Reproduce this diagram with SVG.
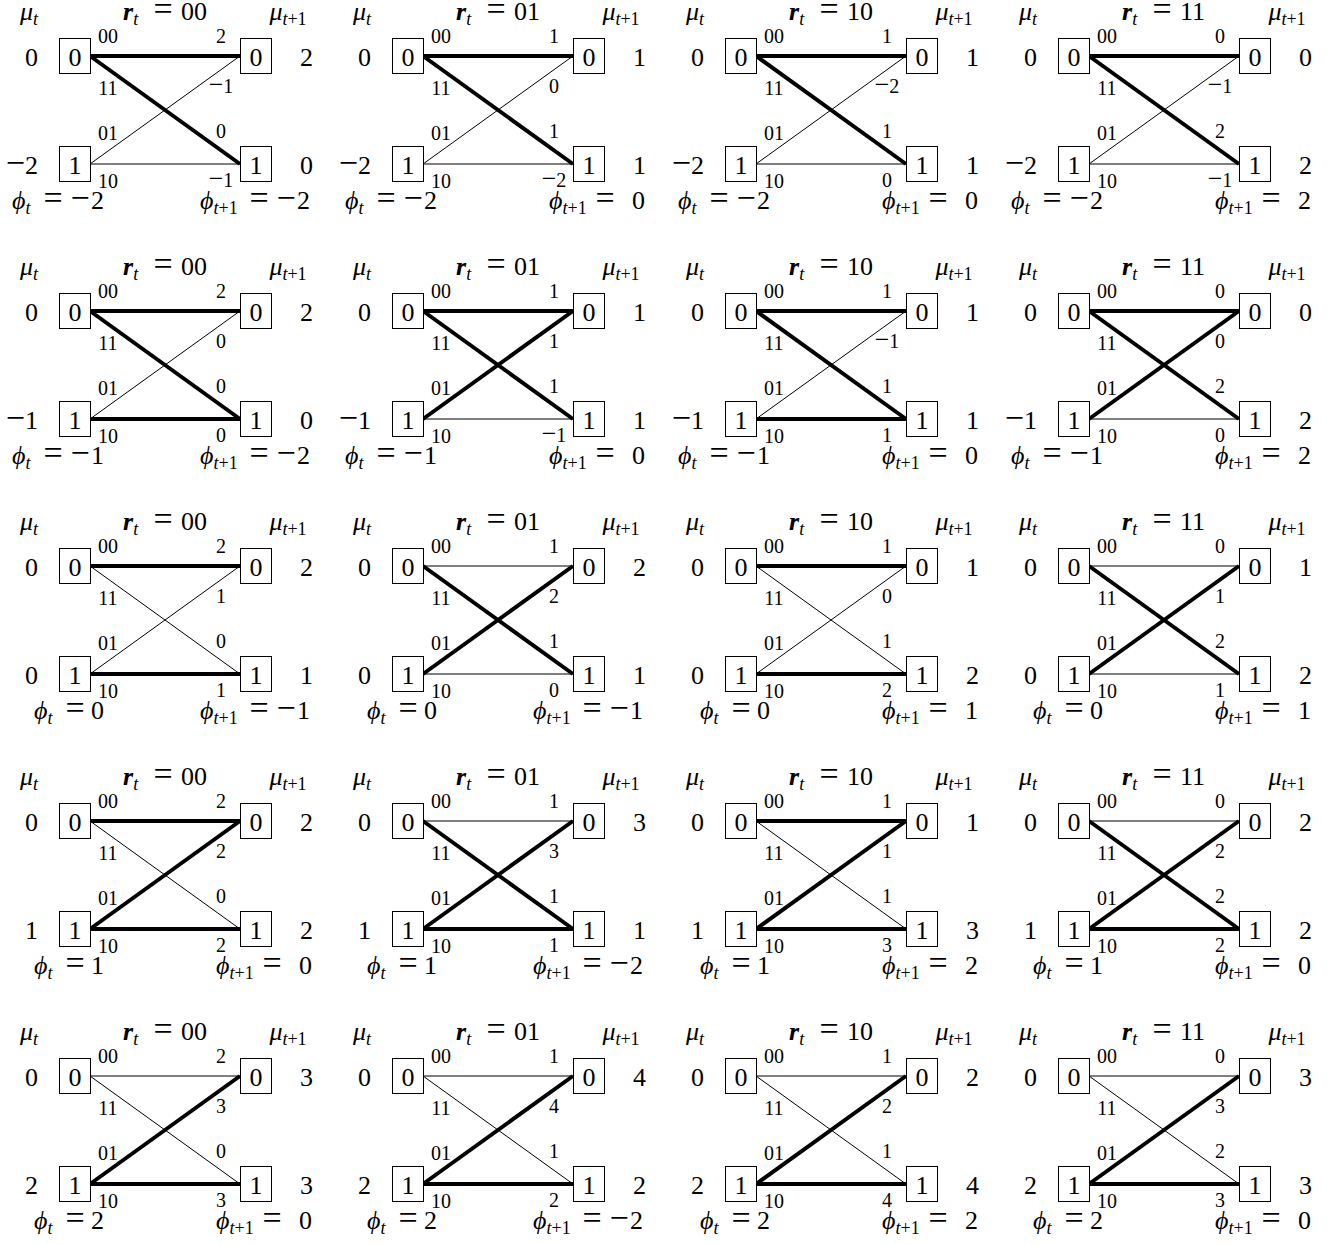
<svg xmlns="http://www.w3.org/2000/svg" width="1332" height="1245" viewBox="0 0 1332 1245">
<style>
text { font-family: "Liberation Serif", "DejaVu Serif", serif; fill: #000; }
.L { font-size: 26px; }
.S { font-size: 20px; }
.sub { font-size: 18px; }
.op { font-size: 34px; }
.ops { font-size: 26px; }
.i { font-style: italic; }
.bi { font-style: italic; font-weight: bold; }
.mid { text-anchor: middle; }
.end { text-anchor: end; }
.box { fill: #fff; stroke: #000; stroke-width: 1; }
.thin { stroke: #000; stroke-width: 1; fill: none; }
.thick { stroke: #000; stroke-width: 4; fill: none; }
</style>
<rect x="0" y="0" width="1332" height="1245" fill="#fff"/>

<!-- ROW 0 -->
<g id="panel-r0c0" transform="translate(0,0)">
<text class="L end" x="38" y="20"><tspan class="i">μ</tspan><tspan class="sub i" dy="5">t</tspan></text>
<text class="L" y="20"><tspan x="123" class="bi">r</tspan><tspan class="sub i" dy="5">t</tspan><tspan x="153.4" dy="-5" class="op">=</tspan><tspan x="181">00</tspan></text>
<text class="L mid" x="288" y="20"><tspan class="i">μ</tspan><tspan class="sub" dy="5"><tspan class="i">t</tspan>+1</tspan></text>
<g id="r0c0-connectors">
<line class="thin" x1="90" y1="164" x2="240" y2="56"/>
<line class="thin" x1="90" y1="164" x2="240" y2="164"/>
<line class="thick" x1="90" y1="56" x2="240" y2="56"/>
<line class="thick" x1="90" y1="56" x2="240" y2="164"/>
</g>
<g id="r0c0-s0"><rect class="box" x="59.5" y="38.5" width="31" height="35"/><text class="L mid" x="75" y="66">0</text></g>
<g id="r0c0-s1"><rect class="box" x="59.5" y="146.5" width="31" height="35"/><text class="L mid" x="75" y="174">1</text></g>
<g id="r0c0-n0"><rect class="box" x="240.5" y="38.5" width="31" height="35"/><text class="L mid" x="256" y="66">0</text></g>
<g id="r0c0-n1"><rect class="box" x="240.5" y="146.5" width="31" height="35"/><text class="L mid" x="256" y="174">1</text></g>
<text class="S mid" x="108" y="43">00</text><text class="S mid" x="108" y="95">11</text><text class="S mid" x="108" y="140">01</text><text class="S mid" x="108" y="188">10</text>
<text class="S mid" x="221" y="43">2</text><text class="S mid" x="221" y="93"><tspan class="ops">−</tspan>1</text><text class="S mid" x="221" y="138">0</text><text class="S mid" x="221" y="187"><tspan class="ops">−</tspan>1</text>
<text class="L end" x="38" y="66">0</text><text class="L end" x="38" y="174"><tspan class="op">−</tspan>2</text>
<text class="L mid" x="306.5" y="66">2</text><text class="L mid" x="306.5" y="174">0</text>
<text class="L" y="209"><tspan x="12" class="i">ϕ</tspan><tspan class="sub i" dy="5">t</tspan><tspan x="43.4" dy="-5" class="op">=</tspan><tspan x="70.4" class="op">−</tspan><tspan x="91">2</tspan></text>
<text class="L" y="209"><tspan x="200" class="i">ϕ</tspan><tspan class="sub" dy="5"><tspan class="i">t</tspan>+1</tspan><tspan x="249.4" dy="-5" class="op">=</tspan><tspan x="276.4" class="op">−</tspan><tspan x="297">2</tspan></text>
</g>

<g id="panel-r0c1" transform="translate(333,0)">
<text class="L end" x="38" y="20"><tspan class="i">μ</tspan><tspan class="sub i" dy="5">t</tspan></text>
<text class="L" y="20"><tspan x="123" class="bi">r</tspan><tspan class="sub i" dy="5">t</tspan><tspan x="153.4" dy="-5" class="op">=</tspan><tspan x="181">01</tspan></text>
<text class="L mid" x="288" y="20"><tspan class="i">μ</tspan><tspan class="sub" dy="5"><tspan class="i">t</tspan>+1</tspan></text>
<g id="r0c1-connectors">
<line class="thin" x1="90" y1="164" x2="240" y2="56"/>
<line class="thin" x1="90" y1="164" x2="240" y2="164"/>
<line class="thick" x1="90" y1="56" x2="240" y2="56"/>
<line class="thick" x1="90" y1="56" x2="240" y2="164"/>
</g>
<g id="r0c1-s0"><rect class="box" x="59.5" y="38.5" width="31" height="35"/><text class="L mid" x="75" y="66">0</text></g>
<g id="r0c1-s1"><rect class="box" x="59.5" y="146.5" width="31" height="35"/><text class="L mid" x="75" y="174">1</text></g>
<g id="r0c1-n0"><rect class="box" x="240.5" y="38.5" width="31" height="35"/><text class="L mid" x="256" y="66">0</text></g>
<g id="r0c1-n1"><rect class="box" x="240.5" y="146.5" width="31" height="35"/><text class="L mid" x="256" y="174">1</text></g>
<text class="S mid" x="108" y="43">00</text><text class="S mid" x="108" y="95">11</text><text class="S mid" x="108" y="140">01</text><text class="S mid" x="108" y="188">10</text>
<text class="S mid" x="221" y="43">1</text><text class="S mid" x="221" y="93">0</text><text class="S mid" x="221" y="138">1</text><text class="S mid" x="221" y="187"><tspan class="ops">−</tspan>2</text>
<text class="L end" x="38" y="66">0</text><text class="L end" x="38" y="174"><tspan class="op">−</tspan>2</text>
<text class="L mid" x="306.5" y="66">1</text><text class="L mid" x="306.5" y="174">1</text>
<text class="L" y="209"><tspan x="12" class="i">ϕ</tspan><tspan class="sub i" dy="5">t</tspan><tspan x="43.4" dy="-5" class="op">=</tspan><tspan x="70.4" class="op">−</tspan><tspan x="91">2</tspan></text>
<text class="L" y="209"><tspan x="216" class="i">ϕ</tspan><tspan class="sub" dy="5"><tspan class="i">t</tspan>+1</tspan><tspan x="262.4" dy="-5" class="op">=</tspan><tspan x="299">0</tspan></text>
</g>

<g id="panel-r0c2" transform="translate(666,0)">
<text class="L end" x="38" y="20"><tspan class="i">μ</tspan><tspan class="sub i" dy="5">t</tspan></text>
<text class="L" y="20"><tspan x="123" class="bi">r</tspan><tspan class="sub i" dy="5">t</tspan><tspan x="153.4" dy="-5" class="op">=</tspan><tspan x="181">10</tspan></text>
<text class="L mid" x="288" y="20"><tspan class="i">μ</tspan><tspan class="sub" dy="5"><tspan class="i">t</tspan>+1</tspan></text>
<g id="r0c2-connectors">
<line class="thin" x1="90" y1="164" x2="240" y2="56"/>
<line class="thin" x1="90" y1="164" x2="240" y2="164"/>
<line class="thick" x1="90" y1="56" x2="240" y2="56"/>
<line class="thick" x1="90" y1="56" x2="240" y2="164"/>
</g>
<g id="r0c2-s0"><rect class="box" x="59.5" y="38.5" width="31" height="35"/><text class="L mid" x="75" y="66">0</text></g>
<g id="r0c2-s1"><rect class="box" x="59.5" y="146.5" width="31" height="35"/><text class="L mid" x="75" y="174">1</text></g>
<g id="r0c2-n0"><rect class="box" x="240.5" y="38.5" width="31" height="35"/><text class="L mid" x="256" y="66">0</text></g>
<g id="r0c2-n1"><rect class="box" x="240.5" y="146.5" width="31" height="35"/><text class="L mid" x="256" y="174">1</text></g>
<text class="S mid" x="108" y="43">00</text><text class="S mid" x="108" y="95">11</text><text class="S mid" x="108" y="140">01</text><text class="S mid" x="108" y="188">10</text>
<text class="S mid" x="221" y="43">1</text><text class="S mid" x="221" y="93"><tspan class="ops">−</tspan>2</text><text class="S mid" x="221" y="138">1</text><text class="S mid" x="221" y="187">0</text>
<text class="L end" x="38" y="66">0</text><text class="L end" x="38" y="174"><tspan class="op">−</tspan>2</text>
<text class="L mid" x="306.5" y="66">1</text><text class="L mid" x="306.5" y="174">1</text>
<text class="L" y="209"><tspan x="12" class="i">ϕ</tspan><tspan class="sub i" dy="5">t</tspan><tspan x="43.4" dy="-5" class="op">=</tspan><tspan x="70.4" class="op">−</tspan><tspan x="91">2</tspan></text>
<text class="L" y="209"><tspan x="216" class="i">ϕ</tspan><tspan class="sub" dy="5"><tspan class="i">t</tspan>+1</tspan><tspan x="262.4" dy="-5" class="op">=</tspan><tspan x="299">0</tspan></text>
</g>

<g id="panel-r0c3" transform="translate(999,0)">
<text class="L end" x="38" y="20"><tspan class="i">μ</tspan><tspan class="sub i" dy="5">t</tspan></text>
<text class="L" y="20"><tspan x="123" class="bi">r</tspan><tspan class="sub i" dy="5">t</tspan><tspan x="153.4" dy="-5" class="op">=</tspan><tspan x="181">11</tspan></text>
<text class="L mid" x="288" y="20"><tspan class="i">μ</tspan><tspan class="sub" dy="5"><tspan class="i">t</tspan>+1</tspan></text>
<g id="r0c3-connectors">
<line class="thin" x1="90" y1="164" x2="240" y2="56"/>
<line class="thin" x1="90" y1="164" x2="240" y2="164"/>
<line class="thick" x1="90" y1="56" x2="240" y2="56"/>
<line class="thick" x1="90" y1="56" x2="240" y2="164"/>
</g>
<g id="r0c3-s0"><rect class="box" x="59.5" y="38.5" width="31" height="35"/><text class="L mid" x="75" y="66">0</text></g>
<g id="r0c3-s1"><rect class="box" x="59.5" y="146.5" width="31" height="35"/><text class="L mid" x="75" y="174">1</text></g>
<g id="r0c3-n0"><rect class="box" x="240.5" y="38.5" width="31" height="35"/><text class="L mid" x="256" y="66">0</text></g>
<g id="r0c3-n1"><rect class="box" x="240.5" y="146.5" width="31" height="35"/><text class="L mid" x="256" y="174">1</text></g>
<text class="S mid" x="108" y="43">00</text><text class="S mid" x="108" y="95">11</text><text class="S mid" x="108" y="140">01</text><text class="S mid" x="108" y="188">10</text>
<text class="S mid" x="221" y="43">0</text><text class="S mid" x="221" y="93"><tspan class="ops">−</tspan>1</text><text class="S mid" x="221" y="138">2</text><text class="S mid" x="221" y="187"><tspan class="ops">−</tspan>1</text>
<text class="L end" x="38" y="66">0</text><text class="L end" x="38" y="174"><tspan class="op">−</tspan>2</text>
<text class="L mid" x="306.5" y="66">0</text><text class="L mid" x="306.5" y="174">2</text>
<text class="L" y="209"><tspan x="12" class="i">ϕ</tspan><tspan class="sub i" dy="5">t</tspan><tspan x="43.4" dy="-5" class="op">=</tspan><tspan x="70.4" class="op">−</tspan><tspan x="91">2</tspan></text>
<text class="L" y="209"><tspan x="216" class="i">ϕ</tspan><tspan class="sub" dy="5"><tspan class="i">t</tspan>+1</tspan><tspan x="262.4" dy="-5" class="op">=</tspan><tspan x="299">2</tspan></text>
</g>

<!-- ROW 1 -->
<g id="panel-r1c0" transform="translate(0,255)">
<text class="L end" x="38" y="20"><tspan class="i">μ</tspan><tspan class="sub i" dy="5">t</tspan></text>
<text class="L" y="20"><tspan x="123" class="bi">r</tspan><tspan class="sub i" dy="5">t</tspan><tspan x="153.4" dy="-5" class="op">=</tspan><tspan x="181">00</tspan></text>
<text class="L mid" x="288" y="20"><tspan class="i">μ</tspan><tspan class="sub" dy="5"><tspan class="i">t</tspan>+1</tspan></text>
<g id="r1c0-connectors">
<line class="thin" x1="90" y1="164" x2="240" y2="56"/>
<line class="thick" x1="90" y1="56" x2="240" y2="56"/>
<line class="thick" x1="90" y1="56" x2="240" y2="164"/>
<line class="thick" x1="90" y1="164" x2="240" y2="164"/>
</g>
<g id="r1c0-s0"><rect class="box" x="59.5" y="38.5" width="31" height="35"/><text class="L mid" x="75" y="66">0</text></g>
<g id="r1c0-s1"><rect class="box" x="59.5" y="146.5" width="31" height="35"/><text class="L mid" x="75" y="174">1</text></g>
<g id="r1c0-n0"><rect class="box" x="240.5" y="38.5" width="31" height="35"/><text class="L mid" x="256" y="66">0</text></g>
<g id="r1c0-n1"><rect class="box" x="240.5" y="146.5" width="31" height="35"/><text class="L mid" x="256" y="174">1</text></g>
<text class="S mid" x="108" y="43">00</text><text class="S mid" x="108" y="95">11</text><text class="S mid" x="108" y="140">01</text><text class="S mid" x="108" y="188">10</text>
<text class="S mid" x="221" y="43">2</text><text class="S mid" x="221" y="93">0</text><text class="S mid" x="221" y="138">0</text><text class="S mid" x="221" y="187">0</text>
<text class="L end" x="38" y="66">0</text><text class="L end" x="38" y="174"><tspan class="op">−</tspan>1</text>
<text class="L mid" x="306.5" y="66">2</text><text class="L mid" x="306.5" y="174">0</text>
<text class="L" y="209"><tspan x="12" class="i">ϕ</tspan><tspan class="sub i" dy="5">t</tspan><tspan x="43.4" dy="-5" class="op">=</tspan><tspan x="70.4" class="op">−</tspan><tspan x="91">1</tspan></text>
<text class="L" y="209"><tspan x="200" class="i">ϕ</tspan><tspan class="sub" dy="5"><tspan class="i">t</tspan>+1</tspan><tspan x="249.4" dy="-5" class="op">=</tspan><tspan x="276.4" class="op">−</tspan><tspan x="297">2</tspan></text>
</g>

<g id="panel-r1c1" transform="translate(333,255)">
<text class="L end" x="38" y="20"><tspan class="i">μ</tspan><tspan class="sub i" dy="5">t</tspan></text>
<text class="L" y="20"><tspan x="123" class="bi">r</tspan><tspan class="sub i" dy="5">t</tspan><tspan x="153.4" dy="-5" class="op">=</tspan><tspan x="181">01</tspan></text>
<text class="L mid" x="288" y="20"><tspan class="i">μ</tspan><tspan class="sub" dy="5"><tspan class="i">t</tspan>+1</tspan></text>
<g id="r1c1-connectors">
<line class="thin" x1="90" y1="164" x2="240" y2="164"/>
<line class="thick" x1="90" y1="56" x2="240" y2="56"/>
<line class="thick" x1="90" y1="56" x2="240" y2="164"/>
<line class="thick" x1="90" y1="164" x2="240" y2="56"/>
</g>
<g id="r1c1-s0"><rect class="box" x="59.5" y="38.5" width="31" height="35"/><text class="L mid" x="75" y="66">0</text></g>
<g id="r1c1-s1"><rect class="box" x="59.5" y="146.5" width="31" height="35"/><text class="L mid" x="75" y="174">1</text></g>
<g id="r1c1-n0"><rect class="box" x="240.5" y="38.5" width="31" height="35"/><text class="L mid" x="256" y="66">0</text></g>
<g id="r1c1-n1"><rect class="box" x="240.5" y="146.5" width="31" height="35"/><text class="L mid" x="256" y="174">1</text></g>
<text class="S mid" x="108" y="43">00</text><text class="S mid" x="108" y="95">11</text><text class="S mid" x="108" y="140">01</text><text class="S mid" x="108" y="188">10</text>
<text class="S mid" x="221" y="43">1</text><text class="S mid" x="221" y="93">1</text><text class="S mid" x="221" y="138">1</text><text class="S mid" x="221" y="187"><tspan class="ops">−</tspan>1</text>
<text class="L end" x="38" y="66">0</text><text class="L end" x="38" y="174"><tspan class="op">−</tspan>1</text>
<text class="L mid" x="306.5" y="66">1</text><text class="L mid" x="306.5" y="174">1</text>
<text class="L" y="209"><tspan x="12" class="i">ϕ</tspan><tspan class="sub i" dy="5">t</tspan><tspan x="43.4" dy="-5" class="op">=</tspan><tspan x="70.4" class="op">−</tspan><tspan x="91">1</tspan></text>
<text class="L" y="209"><tspan x="216" class="i">ϕ</tspan><tspan class="sub" dy="5"><tspan class="i">t</tspan>+1</tspan><tspan x="262.4" dy="-5" class="op">=</tspan><tspan x="299">0</tspan></text>
</g>

<g id="panel-r1c2" transform="translate(666,255)">
<text class="L end" x="38" y="20"><tspan class="i">μ</tspan><tspan class="sub i" dy="5">t</tspan></text>
<text class="L" y="20"><tspan x="123" class="bi">r</tspan><tspan class="sub i" dy="5">t</tspan><tspan x="153.4" dy="-5" class="op">=</tspan><tspan x="181">10</tspan></text>
<text class="L mid" x="288" y="20"><tspan class="i">μ</tspan><tspan class="sub" dy="5"><tspan class="i">t</tspan>+1</tspan></text>
<g id="r1c2-connectors">
<line class="thin" x1="90" y1="164" x2="240" y2="56"/>
<line class="thick" x1="90" y1="56" x2="240" y2="56"/>
<line class="thick" x1="90" y1="56" x2="240" y2="164"/>
<line class="thick" x1="90" y1="164" x2="240" y2="164"/>
</g>
<g id="r1c2-s0"><rect class="box" x="59.5" y="38.5" width="31" height="35"/><text class="L mid" x="75" y="66">0</text></g>
<g id="r1c2-s1"><rect class="box" x="59.5" y="146.5" width="31" height="35"/><text class="L mid" x="75" y="174">1</text></g>
<g id="r1c2-n0"><rect class="box" x="240.5" y="38.5" width="31" height="35"/><text class="L mid" x="256" y="66">0</text></g>
<g id="r1c2-n1"><rect class="box" x="240.5" y="146.5" width="31" height="35"/><text class="L mid" x="256" y="174">1</text></g>
<text class="S mid" x="108" y="43">00</text><text class="S mid" x="108" y="95">11</text><text class="S mid" x="108" y="140">01</text><text class="S mid" x="108" y="188">10</text>
<text class="S mid" x="221" y="43">1</text><text class="S mid" x="221" y="93"><tspan class="ops">−</tspan>1</text><text class="S mid" x="221" y="138">1</text><text class="S mid" x="221" y="187">1</text>
<text class="L end" x="38" y="66">0</text><text class="L end" x="38" y="174"><tspan class="op">−</tspan>1</text>
<text class="L mid" x="306.5" y="66">1</text><text class="L mid" x="306.5" y="174">1</text>
<text class="L" y="209"><tspan x="12" class="i">ϕ</tspan><tspan class="sub i" dy="5">t</tspan><tspan x="43.4" dy="-5" class="op">=</tspan><tspan x="70.4" class="op">−</tspan><tspan x="91">1</tspan></text>
<text class="L" y="209"><tspan x="216" class="i">ϕ</tspan><tspan class="sub" dy="5"><tspan class="i">t</tspan>+1</tspan><tspan x="262.4" dy="-5" class="op">=</tspan><tspan x="299">0</tspan></text>
</g>

<g id="panel-r1c3" transform="translate(999,255)">
<text class="L end" x="38" y="20"><tspan class="i">μ</tspan><tspan class="sub i" dy="5">t</tspan></text>
<text class="L" y="20"><tspan x="123" class="bi">r</tspan><tspan class="sub i" dy="5">t</tspan><tspan x="153.4" dy="-5" class="op">=</tspan><tspan x="181">11</tspan></text>
<text class="L mid" x="288" y="20"><tspan class="i">μ</tspan><tspan class="sub" dy="5"><tspan class="i">t</tspan>+1</tspan></text>
<g id="r1c3-connectors">
<line class="thin" x1="90" y1="164" x2="240" y2="164"/>
<line class="thick" x1="90" y1="56" x2="240" y2="56"/>
<line class="thick" x1="90" y1="56" x2="240" y2="164"/>
<line class="thick" x1="90" y1="164" x2="240" y2="56"/>
</g>
<g id="r1c3-s0"><rect class="box" x="59.5" y="38.5" width="31" height="35"/><text class="L mid" x="75" y="66">0</text></g>
<g id="r1c3-s1"><rect class="box" x="59.5" y="146.5" width="31" height="35"/><text class="L mid" x="75" y="174">1</text></g>
<g id="r1c3-n0"><rect class="box" x="240.5" y="38.5" width="31" height="35"/><text class="L mid" x="256" y="66">0</text></g>
<g id="r1c3-n1"><rect class="box" x="240.5" y="146.5" width="31" height="35"/><text class="L mid" x="256" y="174">1</text></g>
<text class="S mid" x="108" y="43">00</text><text class="S mid" x="108" y="95">11</text><text class="S mid" x="108" y="140">01</text><text class="S mid" x="108" y="188">10</text>
<text class="S mid" x="221" y="43">0</text><text class="S mid" x="221" y="93">0</text><text class="S mid" x="221" y="138">2</text><text class="S mid" x="221" y="187">0</text>
<text class="L end" x="38" y="66">0</text><text class="L end" x="38" y="174"><tspan class="op">−</tspan>1</text>
<text class="L mid" x="306.5" y="66">0</text><text class="L mid" x="306.5" y="174">2</text>
<text class="L" y="209"><tspan x="12" class="i">ϕ</tspan><tspan class="sub i" dy="5">t</tspan><tspan x="43.4" dy="-5" class="op">=</tspan><tspan x="70.4" class="op">−</tspan><tspan x="91">1</tspan></text>
<text class="L" y="209"><tspan x="216" class="i">ϕ</tspan><tspan class="sub" dy="5"><tspan class="i">t</tspan>+1</tspan><tspan x="262.4" dy="-5" class="op">=</tspan><tspan x="299">2</tspan></text>
</g>

<!-- ROW 2 -->
<g id="panel-r2c0" transform="translate(0,510)">
<text class="L end" x="38" y="20"><tspan class="i">μ</tspan><tspan class="sub i" dy="5">t</tspan></text>
<text class="L" y="20"><tspan x="123" class="bi">r</tspan><tspan class="sub i" dy="5">t</tspan><tspan x="153.4" dy="-5" class="op">=</tspan><tspan x="181">00</tspan></text>
<text class="L mid" x="288" y="20"><tspan class="i">μ</tspan><tspan class="sub" dy="5"><tspan class="i">t</tspan>+1</tspan></text>
<g id="r2c0-connectors">
<line class="thin" x1="90" y1="56" x2="240" y2="164"/>
<line class="thin" x1="90" y1="164" x2="240" y2="56"/>
<line class="thick" x1="90" y1="56" x2="240" y2="56"/>
<line class="thick" x1="90" y1="164" x2="240" y2="164"/>
</g>
<g id="r2c0-s0"><rect class="box" x="59.5" y="38.5" width="31" height="35"/><text class="L mid" x="75" y="66">0</text></g>
<g id="r2c0-s1"><rect class="box" x="59.5" y="146.5" width="31" height="35"/><text class="L mid" x="75" y="174">1</text></g>
<g id="r2c0-n0"><rect class="box" x="240.5" y="38.5" width="31" height="35"/><text class="L mid" x="256" y="66">0</text></g>
<g id="r2c0-n1"><rect class="box" x="240.5" y="146.5" width="31" height="35"/><text class="L mid" x="256" y="174">1</text></g>
<text class="S mid" x="108" y="43">00</text><text class="S mid" x="108" y="95">11</text><text class="S mid" x="108" y="140">01</text><text class="S mid" x="108" y="188">10</text>
<text class="S mid" x="221" y="43">2</text><text class="S mid" x="221" y="93">1</text><text class="S mid" x="221" y="138">0</text><text class="S mid" x="221" y="187">1</text>
<text class="L end" x="38" y="66">0</text><text class="L end" x="38" y="174">0</text>
<text class="L mid" x="306.5" y="66">2</text><text class="L mid" x="306.5" y="174">1</text>
<text class="L" y="209"><tspan x="34" class="i">ϕ</tspan><tspan class="sub i" dy="5">t</tspan><tspan x="65.4" dy="-5" class="op">=</tspan><tspan x="91">0</tspan></text>
<text class="L" y="209"><tspan x="200" class="i">ϕ</tspan><tspan class="sub" dy="5"><tspan class="i">t</tspan>+1</tspan><tspan x="249.4" dy="-5" class="op">=</tspan><tspan x="276.4" class="op">−</tspan><tspan x="297">1</tspan></text>
</g>

<g id="panel-r2c1" transform="translate(333,510)">
<text class="L end" x="38" y="20"><tspan class="i">μ</tspan><tspan class="sub i" dy="5">t</tspan></text>
<text class="L" y="20"><tspan x="123" class="bi">r</tspan><tspan class="sub i" dy="5">t</tspan><tspan x="153.4" dy="-5" class="op">=</tspan><tspan x="181">01</tspan></text>
<text class="L mid" x="288" y="20"><tspan class="i">μ</tspan><tspan class="sub" dy="5"><tspan class="i">t</tspan>+1</tspan></text>
<g id="r2c1-connectors">
<line class="thin" x1="90" y1="56" x2="240" y2="56"/>
<line class="thin" x1="90" y1="164" x2="240" y2="164"/>
<line class="thick" x1="90" y1="56" x2="240" y2="164"/>
<line class="thick" x1="90" y1="164" x2="240" y2="56"/>
</g>
<g id="r2c1-s0"><rect class="box" x="59.5" y="38.5" width="31" height="35"/><text class="L mid" x="75" y="66">0</text></g>
<g id="r2c1-s1"><rect class="box" x="59.5" y="146.5" width="31" height="35"/><text class="L mid" x="75" y="174">1</text></g>
<g id="r2c1-n0"><rect class="box" x="240.5" y="38.5" width="31" height="35"/><text class="L mid" x="256" y="66">0</text></g>
<g id="r2c1-n1"><rect class="box" x="240.5" y="146.5" width="31" height="35"/><text class="L mid" x="256" y="174">1</text></g>
<text class="S mid" x="108" y="43">00</text><text class="S mid" x="108" y="95">11</text><text class="S mid" x="108" y="140">01</text><text class="S mid" x="108" y="188">10</text>
<text class="S mid" x="221" y="43">1</text><text class="S mid" x="221" y="93">2</text><text class="S mid" x="221" y="138">1</text><text class="S mid" x="221" y="187">0</text>
<text class="L end" x="38" y="66">0</text><text class="L end" x="38" y="174">0</text>
<text class="L mid" x="306.5" y="66">2</text><text class="L mid" x="306.5" y="174">1</text>
<text class="L" y="209"><tspan x="34" class="i">ϕ</tspan><tspan class="sub i" dy="5">t</tspan><tspan x="65.4" dy="-5" class="op">=</tspan><tspan x="91">0</tspan></text>
<text class="L" y="209"><tspan x="200" class="i">ϕ</tspan><tspan class="sub" dy="5"><tspan class="i">t</tspan>+1</tspan><tspan x="249.4" dy="-5" class="op">=</tspan><tspan x="276.4" class="op">−</tspan><tspan x="297">1</tspan></text>
</g>

<g id="panel-r2c2" transform="translate(666,510)">
<text class="L end" x="38" y="20"><tspan class="i">μ</tspan><tspan class="sub i" dy="5">t</tspan></text>
<text class="L" y="20"><tspan x="123" class="bi">r</tspan><tspan class="sub i" dy="5">t</tspan><tspan x="153.4" dy="-5" class="op">=</tspan><tspan x="181">10</tspan></text>
<text class="L mid" x="288" y="20"><tspan class="i">μ</tspan><tspan class="sub" dy="5"><tspan class="i">t</tspan>+1</tspan></text>
<g id="r2c2-connectors">
<line class="thin" x1="90" y1="56" x2="240" y2="164"/>
<line class="thin" x1="90" y1="164" x2="240" y2="56"/>
<line class="thick" x1="90" y1="56" x2="240" y2="56"/>
<line class="thick" x1="90" y1="164" x2="240" y2="164"/>
</g>
<g id="r2c2-s0"><rect class="box" x="59.5" y="38.5" width="31" height="35"/><text class="L mid" x="75" y="66">0</text></g>
<g id="r2c2-s1"><rect class="box" x="59.5" y="146.5" width="31" height="35"/><text class="L mid" x="75" y="174">1</text></g>
<g id="r2c2-n0"><rect class="box" x="240.5" y="38.5" width="31" height="35"/><text class="L mid" x="256" y="66">0</text></g>
<g id="r2c2-n1"><rect class="box" x="240.5" y="146.5" width="31" height="35"/><text class="L mid" x="256" y="174">1</text></g>
<text class="S mid" x="108" y="43">00</text><text class="S mid" x="108" y="95">11</text><text class="S mid" x="108" y="140">01</text><text class="S mid" x="108" y="188">10</text>
<text class="S mid" x="221" y="43">1</text><text class="S mid" x="221" y="93">0</text><text class="S mid" x="221" y="138">1</text><text class="S mid" x="221" y="187">2</text>
<text class="L end" x="38" y="66">0</text><text class="L end" x="38" y="174">0</text>
<text class="L mid" x="306.5" y="66">1</text><text class="L mid" x="306.5" y="174">2</text>
<text class="L" y="209"><tspan x="34" class="i">ϕ</tspan><tspan class="sub i" dy="5">t</tspan><tspan x="65.4" dy="-5" class="op">=</tspan><tspan x="91">0</tspan></text>
<text class="L" y="209"><tspan x="216" class="i">ϕ</tspan><tspan class="sub" dy="5"><tspan class="i">t</tspan>+1</tspan><tspan x="262.4" dy="-5" class="op">=</tspan><tspan x="299">1</tspan></text>
</g>

<g id="panel-r2c3" transform="translate(999,510)">
<text class="L end" x="38" y="20"><tspan class="i">μ</tspan><tspan class="sub i" dy="5">t</tspan></text>
<text class="L" y="20"><tspan x="123" class="bi">r</tspan><tspan class="sub i" dy="5">t</tspan><tspan x="153.4" dy="-5" class="op">=</tspan><tspan x="181">11</tspan></text>
<text class="L mid" x="288" y="20"><tspan class="i">μ</tspan><tspan class="sub" dy="5"><tspan class="i">t</tspan>+1</tspan></text>
<g id="r2c3-connectors">
<line class="thin" x1="90" y1="56" x2="240" y2="56"/>
<line class="thin" x1="90" y1="164" x2="240" y2="164"/>
<line class="thick" x1="90" y1="56" x2="240" y2="164"/>
<line class="thick" x1="90" y1="164" x2="240" y2="56"/>
</g>
<g id="r2c3-s0"><rect class="box" x="59.5" y="38.5" width="31" height="35"/><text class="L mid" x="75" y="66">0</text></g>
<g id="r2c3-s1"><rect class="box" x="59.5" y="146.5" width="31" height="35"/><text class="L mid" x="75" y="174">1</text></g>
<g id="r2c3-n0"><rect class="box" x="240.5" y="38.5" width="31" height="35"/><text class="L mid" x="256" y="66">0</text></g>
<g id="r2c3-n1"><rect class="box" x="240.5" y="146.5" width="31" height="35"/><text class="L mid" x="256" y="174">1</text></g>
<text class="S mid" x="108" y="43">00</text><text class="S mid" x="108" y="95">11</text><text class="S mid" x="108" y="140">01</text><text class="S mid" x="108" y="188">10</text>
<text class="S mid" x="221" y="43">0</text><text class="S mid" x="221" y="93">1</text><text class="S mid" x="221" y="138">2</text><text class="S mid" x="221" y="187">1</text>
<text class="L end" x="38" y="66">0</text><text class="L end" x="38" y="174">0</text>
<text class="L mid" x="306.5" y="66">1</text><text class="L mid" x="306.5" y="174">2</text>
<text class="L" y="209"><tspan x="34" class="i">ϕ</tspan><tspan class="sub i" dy="5">t</tspan><tspan x="65.4" dy="-5" class="op">=</tspan><tspan x="91">0</tspan></text>
<text class="L" y="209"><tspan x="216" class="i">ϕ</tspan><tspan class="sub" dy="5"><tspan class="i">t</tspan>+1</tspan><tspan x="262.4" dy="-5" class="op">=</tspan><tspan x="299">1</tspan></text>
</g>

<!-- ROW 3 -->
<g id="panel-r3c0" transform="translate(0,765)">
<text class="L end" x="38" y="20"><tspan class="i">μ</tspan><tspan class="sub i" dy="5">t</tspan></text>
<text class="L" y="20"><tspan x="123" class="bi">r</tspan><tspan class="sub i" dy="5">t</tspan><tspan x="153.4" dy="-5" class="op">=</tspan><tspan x="181">00</tspan></text>
<text class="L mid" x="288" y="20"><tspan class="i">μ</tspan><tspan class="sub" dy="5"><tspan class="i">t</tspan>+1</tspan></text>
<g id="r3c0-connectors">
<line class="thin" x1="90" y1="56" x2="240" y2="164"/>
<line class="thick" x1="90" y1="56" x2="240" y2="56"/>
<line class="thick" x1="90" y1="164" x2="240" y2="56"/>
<line class="thick" x1="90" y1="164" x2="240" y2="164"/>
</g>
<g id="r3c0-s0"><rect class="box" x="59.5" y="38.5" width="31" height="35"/><text class="L mid" x="75" y="66">0</text></g>
<g id="r3c0-s1"><rect class="box" x="59.5" y="146.5" width="31" height="35"/><text class="L mid" x="75" y="174">1</text></g>
<g id="r3c0-n0"><rect class="box" x="240.5" y="38.5" width="31" height="35"/><text class="L mid" x="256" y="66">0</text></g>
<g id="r3c0-n1"><rect class="box" x="240.5" y="146.5" width="31" height="35"/><text class="L mid" x="256" y="174">1</text></g>
<text class="S mid" x="108" y="43">00</text><text class="S mid" x="108" y="95">11</text><text class="S mid" x="108" y="140">01</text><text class="S mid" x="108" y="188">10</text>
<text class="S mid" x="221" y="43">2</text><text class="S mid" x="221" y="93">2</text><text class="S mid" x="221" y="138">0</text><text class="S mid" x="221" y="187">2</text>
<text class="L end" x="38" y="66">0</text><text class="L end" x="38" y="174">1</text>
<text class="L mid" x="306.5" y="66">2</text><text class="L mid" x="306.5" y="174">2</text>
<text class="L" y="209"><tspan x="34" class="i">ϕ</tspan><tspan class="sub i" dy="5">t</tspan><tspan x="65.4" dy="-5" class="op">=</tspan><tspan x="91">1</tspan></text>
<text class="L" y="209"><tspan x="216" class="i">ϕ</tspan><tspan class="sub" dy="5"><tspan class="i">t</tspan>+1</tspan><tspan x="262.4" dy="-5" class="op">=</tspan><tspan x="299">0</tspan></text>
</g>

<g id="panel-r3c1" transform="translate(333,765)">
<text class="L end" x="38" y="20"><tspan class="i">μ</tspan><tspan class="sub i" dy="5">t</tspan></text>
<text class="L" y="20"><tspan x="123" class="bi">r</tspan><tspan class="sub i" dy="5">t</tspan><tspan x="153.4" dy="-5" class="op">=</tspan><tspan x="181">01</tspan></text>
<text class="L mid" x="288" y="20"><tspan class="i">μ</tspan><tspan class="sub" dy="5"><tspan class="i">t</tspan>+1</tspan></text>
<g id="r3c1-connectors">
<line class="thin" x1="90" y1="56" x2="240" y2="56"/>
<line class="thick" x1="90" y1="56" x2="240" y2="164"/>
<line class="thick" x1="90" y1="164" x2="240" y2="56"/>
<line class="thick" x1="90" y1="164" x2="240" y2="164"/>
</g>
<g id="r3c1-s0"><rect class="box" x="59.5" y="38.5" width="31" height="35"/><text class="L mid" x="75" y="66">0</text></g>
<g id="r3c1-s1"><rect class="box" x="59.5" y="146.5" width="31" height="35"/><text class="L mid" x="75" y="174">1</text></g>
<g id="r3c1-n0"><rect class="box" x="240.5" y="38.5" width="31" height="35"/><text class="L mid" x="256" y="66">0</text></g>
<g id="r3c1-n1"><rect class="box" x="240.5" y="146.5" width="31" height="35"/><text class="L mid" x="256" y="174">1</text></g>
<text class="S mid" x="108" y="43">00</text><text class="S mid" x="108" y="95">11</text><text class="S mid" x="108" y="140">01</text><text class="S mid" x="108" y="188">10</text>
<text class="S mid" x="221" y="43">1</text><text class="S mid" x="221" y="93">3</text><text class="S mid" x="221" y="138">1</text><text class="S mid" x="221" y="187">1</text>
<text class="L end" x="38" y="66">0</text><text class="L end" x="38" y="174">1</text>
<text class="L mid" x="306.5" y="66">3</text><text class="L mid" x="306.5" y="174">1</text>
<text class="L" y="209"><tspan x="34" class="i">ϕ</tspan><tspan class="sub i" dy="5">t</tspan><tspan x="65.4" dy="-5" class="op">=</tspan><tspan x="91">1</tspan></text>
<text class="L" y="209"><tspan x="200" class="i">ϕ</tspan><tspan class="sub" dy="5"><tspan class="i">t</tspan>+1</tspan><tspan x="249.4" dy="-5" class="op">=</tspan><tspan x="276.4" class="op">−</tspan><tspan x="297">2</tspan></text>
</g>

<g id="panel-r3c2" transform="translate(666,765)">
<text class="L end" x="38" y="20"><tspan class="i">μ</tspan><tspan class="sub i" dy="5">t</tspan></text>
<text class="L" y="20"><tspan x="123" class="bi">r</tspan><tspan class="sub i" dy="5">t</tspan><tspan x="153.4" dy="-5" class="op">=</tspan><tspan x="181">10</tspan></text>
<text class="L mid" x="288" y="20"><tspan class="i">μ</tspan><tspan class="sub" dy="5"><tspan class="i">t</tspan>+1</tspan></text>
<g id="r3c2-connectors">
<line class="thin" x1="90" y1="56" x2="240" y2="164"/>
<line class="thick" x1="90" y1="56" x2="240" y2="56"/>
<line class="thick" x1="90" y1="164" x2="240" y2="56"/>
<line class="thick" x1="90" y1="164" x2="240" y2="164"/>
</g>
<g id="r3c2-s0"><rect class="box" x="59.5" y="38.5" width="31" height="35"/><text class="L mid" x="75" y="66">0</text></g>
<g id="r3c2-s1"><rect class="box" x="59.5" y="146.5" width="31" height="35"/><text class="L mid" x="75" y="174">1</text></g>
<g id="r3c2-n0"><rect class="box" x="240.5" y="38.5" width="31" height="35"/><text class="L mid" x="256" y="66">0</text></g>
<g id="r3c2-n1"><rect class="box" x="240.5" y="146.5" width="31" height="35"/><text class="L mid" x="256" y="174">1</text></g>
<text class="S mid" x="108" y="43">00</text><text class="S mid" x="108" y="95">11</text><text class="S mid" x="108" y="140">01</text><text class="S mid" x="108" y="188">10</text>
<text class="S mid" x="221" y="43">1</text><text class="S mid" x="221" y="93">1</text><text class="S mid" x="221" y="138">1</text><text class="S mid" x="221" y="187">3</text>
<text class="L end" x="38" y="66">0</text><text class="L end" x="38" y="174">1</text>
<text class="L mid" x="306.5" y="66">1</text><text class="L mid" x="306.5" y="174">3</text>
<text class="L" y="209"><tspan x="34" class="i">ϕ</tspan><tspan class="sub i" dy="5">t</tspan><tspan x="65.4" dy="-5" class="op">=</tspan><tspan x="91">1</tspan></text>
<text class="L" y="209"><tspan x="216" class="i">ϕ</tspan><tspan class="sub" dy="5"><tspan class="i">t</tspan>+1</tspan><tspan x="262.4" dy="-5" class="op">=</tspan><tspan x="299">2</tspan></text>
</g>

<g id="panel-r3c3" transform="translate(999,765)">
<text class="L end" x="38" y="20"><tspan class="i">μ</tspan><tspan class="sub i" dy="5">t</tspan></text>
<text class="L" y="20"><tspan x="123" class="bi">r</tspan><tspan class="sub i" dy="5">t</tspan><tspan x="153.4" dy="-5" class="op">=</tspan><tspan x="181">11</tspan></text>
<text class="L mid" x="288" y="20"><tspan class="i">μ</tspan><tspan class="sub" dy="5"><tspan class="i">t</tspan>+1</tspan></text>
<g id="r3c3-connectors">
<line class="thin" x1="90" y1="56" x2="240" y2="56"/>
<line class="thick" x1="90" y1="56" x2="240" y2="164"/>
<line class="thick" x1="90" y1="164" x2="240" y2="56"/>
<line class="thick" x1="90" y1="164" x2="240" y2="164"/>
</g>
<g id="r3c3-s0"><rect class="box" x="59.5" y="38.5" width="31" height="35"/><text class="L mid" x="75" y="66">0</text></g>
<g id="r3c3-s1"><rect class="box" x="59.5" y="146.5" width="31" height="35"/><text class="L mid" x="75" y="174">1</text></g>
<g id="r3c3-n0"><rect class="box" x="240.5" y="38.5" width="31" height="35"/><text class="L mid" x="256" y="66">0</text></g>
<g id="r3c3-n1"><rect class="box" x="240.5" y="146.5" width="31" height="35"/><text class="L mid" x="256" y="174">1</text></g>
<text class="S mid" x="108" y="43">00</text><text class="S mid" x="108" y="95">11</text><text class="S mid" x="108" y="140">01</text><text class="S mid" x="108" y="188">10</text>
<text class="S mid" x="221" y="43">0</text><text class="S mid" x="221" y="93">2</text><text class="S mid" x="221" y="138">2</text><text class="S mid" x="221" y="187">2</text>
<text class="L end" x="38" y="66">0</text><text class="L end" x="38" y="174">1</text>
<text class="L mid" x="306.5" y="66">2</text><text class="L mid" x="306.5" y="174">2</text>
<text class="L" y="209"><tspan x="34" class="i">ϕ</tspan><tspan class="sub i" dy="5">t</tspan><tspan x="65.4" dy="-5" class="op">=</tspan><tspan x="91">1</tspan></text>
<text class="L" y="209"><tspan x="216" class="i">ϕ</tspan><tspan class="sub" dy="5"><tspan class="i">t</tspan>+1</tspan><tspan x="262.4" dy="-5" class="op">=</tspan><tspan x="299">0</tspan></text>
</g>

<!-- ROW 4 -->
<g id="panel-r4c0" transform="translate(0,1020)">
<text class="L end" x="38" y="20"><tspan class="i">μ</tspan><tspan class="sub i" dy="5">t</tspan></text>
<text class="L" y="20"><tspan x="123" class="bi">r</tspan><tspan class="sub i" dy="5">t</tspan><tspan x="153.4" dy="-5" class="op">=</tspan><tspan x="181">00</tspan></text>
<text class="L mid" x="288" y="20"><tspan class="i">μ</tspan><tspan class="sub" dy="5"><tspan class="i">t</tspan>+1</tspan></text>
<g id="r4c0-connectors">
<line class="thin" x1="90" y1="56" x2="240" y2="56"/>
<line class="thin" x1="90" y1="56" x2="240" y2="164"/>
<line class="thick" x1="90" y1="164" x2="240" y2="56"/>
<line class="thick" x1="90" y1="164" x2="240" y2="164"/>
</g>
<g id="r4c0-s0"><rect class="box" x="59.5" y="38.5" width="31" height="35"/><text class="L mid" x="75" y="66">0</text></g>
<g id="r4c0-s1"><rect class="box" x="59.5" y="146.5" width="31" height="35"/><text class="L mid" x="75" y="174">1</text></g>
<g id="r4c0-n0"><rect class="box" x="240.5" y="38.5" width="31" height="35"/><text class="L mid" x="256" y="66">0</text></g>
<g id="r4c0-n1"><rect class="box" x="240.5" y="146.5" width="31" height="35"/><text class="L mid" x="256" y="174">1</text></g>
<text class="S mid" x="108" y="43">00</text><text class="S mid" x="108" y="95">11</text><text class="S mid" x="108" y="140">01</text><text class="S mid" x="108" y="188">10</text>
<text class="S mid" x="221" y="43">2</text><text class="S mid" x="221" y="93">3</text><text class="S mid" x="221" y="138">0</text><text class="S mid" x="221" y="187">3</text>
<text class="L end" x="38" y="66">0</text><text class="L end" x="38" y="174">2</text>
<text class="L mid" x="306.5" y="66">3</text><text class="L mid" x="306.5" y="174">3</text>
<text class="L" y="209"><tspan x="34" class="i">ϕ</tspan><tspan class="sub i" dy="5">t</tspan><tspan x="65.4" dy="-5" class="op">=</tspan><tspan x="91">2</tspan></text>
<text class="L" y="209"><tspan x="216" class="i">ϕ</tspan><tspan class="sub" dy="5"><tspan class="i">t</tspan>+1</tspan><tspan x="262.4" dy="-5" class="op">=</tspan><tspan x="299">0</tspan></text>
</g>

<g id="panel-r4c1" transform="translate(333,1020)">
<text class="L end" x="38" y="20"><tspan class="i">μ</tspan><tspan class="sub i" dy="5">t</tspan></text>
<text class="L" y="20"><tspan x="123" class="bi">r</tspan><tspan class="sub i" dy="5">t</tspan><tspan x="153.4" dy="-5" class="op">=</tspan><tspan x="181">01</tspan></text>
<text class="L mid" x="288" y="20"><tspan class="i">μ</tspan><tspan class="sub" dy="5"><tspan class="i">t</tspan>+1</tspan></text>
<g id="r4c1-connectors">
<line class="thin" x1="90" y1="56" x2="240" y2="56"/>
<line class="thin" x1="90" y1="56" x2="240" y2="164"/>
<line class="thick" x1="90" y1="164" x2="240" y2="56"/>
<line class="thick" x1="90" y1="164" x2="240" y2="164"/>
</g>
<g id="r4c1-s0"><rect class="box" x="59.5" y="38.5" width="31" height="35"/><text class="L mid" x="75" y="66">0</text></g>
<g id="r4c1-s1"><rect class="box" x="59.5" y="146.5" width="31" height="35"/><text class="L mid" x="75" y="174">1</text></g>
<g id="r4c1-n0"><rect class="box" x="240.5" y="38.5" width="31" height="35"/><text class="L mid" x="256" y="66">0</text></g>
<g id="r4c1-n1"><rect class="box" x="240.5" y="146.5" width="31" height="35"/><text class="L mid" x="256" y="174">1</text></g>
<text class="S mid" x="108" y="43">00</text><text class="S mid" x="108" y="95">11</text><text class="S mid" x="108" y="140">01</text><text class="S mid" x="108" y="188">10</text>
<text class="S mid" x="221" y="43">1</text><text class="S mid" x="221" y="93">4</text><text class="S mid" x="221" y="138">1</text><text class="S mid" x="221" y="187">2</text>
<text class="L end" x="38" y="66">0</text><text class="L end" x="38" y="174">2</text>
<text class="L mid" x="306.5" y="66">4</text><text class="L mid" x="306.5" y="174">2</text>
<text class="L" y="209"><tspan x="34" class="i">ϕ</tspan><tspan class="sub i" dy="5">t</tspan><tspan x="65.4" dy="-5" class="op">=</tspan><tspan x="91">2</tspan></text>
<text class="L" y="209"><tspan x="200" class="i">ϕ</tspan><tspan class="sub" dy="5"><tspan class="i">t</tspan>+1</tspan><tspan x="249.4" dy="-5" class="op">=</tspan><tspan x="276.4" class="op">−</tspan><tspan x="297">2</tspan></text>
</g>

<g id="panel-r4c2" transform="translate(666,1020)">
<text class="L end" x="38" y="20"><tspan class="i">μ</tspan><tspan class="sub i" dy="5">t</tspan></text>
<text class="L" y="20"><tspan x="123" class="bi">r</tspan><tspan class="sub i" dy="5">t</tspan><tspan x="153.4" dy="-5" class="op">=</tspan><tspan x="181">10</tspan></text>
<text class="L mid" x="288" y="20"><tspan class="i">μ</tspan><tspan class="sub" dy="5"><tspan class="i">t</tspan>+1</tspan></text>
<g id="r4c2-connectors">
<line class="thin" x1="90" y1="56" x2="240" y2="56"/>
<line class="thin" x1="90" y1="56" x2="240" y2="164"/>
<line class="thick" x1="90" y1="164" x2="240" y2="56"/>
<line class="thick" x1="90" y1="164" x2="240" y2="164"/>
</g>
<g id="r4c2-s0"><rect class="box" x="59.5" y="38.5" width="31" height="35"/><text class="L mid" x="75" y="66">0</text></g>
<g id="r4c2-s1"><rect class="box" x="59.5" y="146.5" width="31" height="35"/><text class="L mid" x="75" y="174">1</text></g>
<g id="r4c2-n0"><rect class="box" x="240.5" y="38.5" width="31" height="35"/><text class="L mid" x="256" y="66">0</text></g>
<g id="r4c2-n1"><rect class="box" x="240.5" y="146.5" width="31" height="35"/><text class="L mid" x="256" y="174">1</text></g>
<text class="S mid" x="108" y="43">00</text><text class="S mid" x="108" y="95">11</text><text class="S mid" x="108" y="140">01</text><text class="S mid" x="108" y="188">10</text>
<text class="S mid" x="221" y="43">1</text><text class="S mid" x="221" y="93">2</text><text class="S mid" x="221" y="138">1</text><text class="S mid" x="221" y="187">4</text>
<text class="L end" x="38" y="66">0</text><text class="L end" x="38" y="174">2</text>
<text class="L mid" x="306.5" y="66">2</text><text class="L mid" x="306.5" y="174">4</text>
<text class="L" y="209"><tspan x="34" class="i">ϕ</tspan><tspan class="sub i" dy="5">t</tspan><tspan x="65.4" dy="-5" class="op">=</tspan><tspan x="91">2</tspan></text>
<text class="L" y="209"><tspan x="216" class="i">ϕ</tspan><tspan class="sub" dy="5"><tspan class="i">t</tspan>+1</tspan><tspan x="262.4" dy="-5" class="op">=</tspan><tspan x="299">2</tspan></text>
</g>

<g id="panel-r4c3" transform="translate(999,1020)">
<text class="L end" x="38" y="20"><tspan class="i">μ</tspan><tspan class="sub i" dy="5">t</tspan></text>
<text class="L" y="20"><tspan x="123" class="bi">r</tspan><tspan class="sub i" dy="5">t</tspan><tspan x="153.4" dy="-5" class="op">=</tspan><tspan x="181">11</tspan></text>
<text class="L mid" x="288" y="20"><tspan class="i">μ</tspan><tspan class="sub" dy="5"><tspan class="i">t</tspan>+1</tspan></text>
<g id="r4c3-connectors">
<line class="thin" x1="90" y1="56" x2="240" y2="56"/>
<line class="thin" x1="90" y1="56" x2="240" y2="164"/>
<line class="thick" x1="90" y1="164" x2="240" y2="56"/>
<line class="thick" x1="90" y1="164" x2="240" y2="164"/>
</g>
<g id="r4c3-s0"><rect class="box" x="59.5" y="38.5" width="31" height="35"/><text class="L mid" x="75" y="66">0</text></g>
<g id="r4c3-s1"><rect class="box" x="59.5" y="146.5" width="31" height="35"/><text class="L mid" x="75" y="174">1</text></g>
<g id="r4c3-n0"><rect class="box" x="240.5" y="38.5" width="31" height="35"/><text class="L mid" x="256" y="66">0</text></g>
<g id="r4c3-n1"><rect class="box" x="240.5" y="146.5" width="31" height="35"/><text class="L mid" x="256" y="174">1</text></g>
<text class="S mid" x="108" y="43">00</text><text class="S mid" x="108" y="95">11</text><text class="S mid" x="108" y="140">01</text><text class="S mid" x="108" y="188">10</text>
<text class="S mid" x="221" y="43">0</text><text class="S mid" x="221" y="93">3</text><text class="S mid" x="221" y="138">2</text><text class="S mid" x="221" y="187">3</text>
<text class="L end" x="38" y="66">0</text><text class="L end" x="38" y="174">2</text>
<text class="L mid" x="306.5" y="66">3</text><text class="L mid" x="306.5" y="174">3</text>
<text class="L" y="209"><tspan x="34" class="i">ϕ</tspan><tspan class="sub i" dy="5">t</tspan><tspan x="65.4" dy="-5" class="op">=</tspan><tspan x="91">2</tspan></text>
<text class="L" y="209"><tspan x="216" class="i">ϕ</tspan><tspan class="sub" dy="5"><tspan class="i">t</tspan>+1</tspan><tspan x="262.4" dy="-5" class="op">=</tspan><tspan x="299">0</tspan></text>
</g>
</svg>
